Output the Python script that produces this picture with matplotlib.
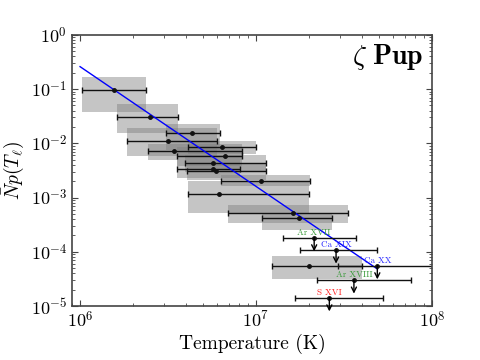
import matplotlib
matplotlib.use('Agg')
import matplotlib.pyplot as plt
import numpy as np
from matplotlib.ticker import FuncFormatter

# measured points: temperature, lower/upper temperature, value, box lower/upper
temp = [1.55e6, 2.50e6, 4.32e6, 3.18e6, 6.38e6, 3.42e6, 6.67e6, 5.68e6,
        5.68e6, 5.93e6, 1.07e7, 6.17e6, 1.63e7, 1.76e7, 2.00e7]
temp_lo = [1.02e6, 1.63e6, 3.07e6, 1.86e6, 4.12e6, 2.43e6, 3.54e6, 3.95e6,
           3.54e6, 4.04e6, 6.30e6, 4.12e6, 6.90e6, 1.08e7, 1.24e7]
temp_hi = [2.36e6, 3.62e6, 6.24e6, 5.98e6, 1.00e7, 8.30e6, 8.30e6, 1.14e7,
           8.11e6, 1.14e7, 2.03e7, 2.00e7, 3.34e7, 2.69e7, 3.99e7]
npt = [9.7e-2, 3.11e-2, 1.54e-2, 1.11e-2, 8.47e-3, 7.24e-3, 5.93e-3, 4.30e-3,
       3.37e-3, 3.10e-3, 2.05e-3, 1.15e-3, 5.13e-4, 4.15e-4, 5.54e-5]
npt_lo = [3.85e-2, 1.54e-2, 7.55e-3, 5.86e-3, 6.37e-3, 4.94e-3, 3.83e-3, 2.97e-3,
          2.30e-3, 2.11e-3, 1.64e-3, 5.20e-4, 3.36e-4, 2.52e-4, 3.11e-5]
npt_hi = [1.70e-1, 5.33e-2, 2.28e-2, 1.95e-2, 1.11e-2, 9.75e-3, 8.59e-3, 6.11e-3,
          4.94e-3, 4.35e-3, 2.61e-3, 2.02e-3, 7.30e-4, 5.20e-4, 8.37e-5]

# upper limits
ul_names = ['Ar XVII', 'Ca XIX', 'Ca XX', 'Ar XVIII', 'S XVI']
ul_colors = ['#3a9a3a', '#3030ff', '#3030ff', '#3a9a3a', '#ff2020']
ul_temp = [2.14e7, 2.85e7, 4.89e7, 3.60e7, 2.61e7]
ul_temp_lo = [1.43e7, 1.78e7, 2.94e7, 2.23e7, 1.67e7]
ul_temp_hi = [3.68e7, 4.89e7, 1.2e8, 7.57e7, 5.28e7]
ul_val = [1.82e-4, 1.08e-4, 5.54e-5, 3.02e-5, 1.42e-5]

# power law fit
fit_t = [1.0e6, 4.9e7]
fit_n = [2.6e-1, 4.8e-5]

plt.rcParams['mathtext.fontset'] = 'cm'
plt.rcParams['axes.formatter.use_mathtext'] = True

fig = plt.figure(figsize=(4.8, 3.6), dpi=100)
ax = fig.add_axes([0.15, 0.15, 0.75, 0.753])
ax.set_xscale('log')
ax.set_yscale('log')

# gray boxes
for i in range(len(temp)):
    ax.fill_between([temp_lo[i], temp_hi[i]], npt_lo[i], npt_hi[i],
                    color='gray', alpha=0.45, lw=0)

t = np.array(temp)
ax.errorbar(temp, npt, xerr=[t - np.array(temp_lo), np.array(temp_hi) - t],
            fmt='o', color='#111111', ms=2.5, capsize=2.5, elinewidth=1,
            capthick=1)

ax.plot(fit_t, fit_n, color='blue', lw=1)

ut = np.array(ul_temp)
ax.errorbar(ul_temp, ul_val, xerr=[ut - np.array(ul_temp_lo), np.array(ul_temp_hi) - ut],
            fmt='o', color='#111111', ms=2.5, capsize=2.5, elinewidth=1,
            capthick=1)
for i in range(len(ul_names)):
    ax.annotate('', xy=(ul_temp[i], ul_val[i] * 0.56), xytext=(ul_temp[i], ul_val[i]),
                arrowprops=dict(arrowstyle='->', color='black', lw=1,
                                shrinkA=0, shrinkB=0, mutation_scale=9),
                annotation_clip=False)
    ax.text(ul_temp[i], ul_val[i] * 1.04, ul_names[i], color=ul_colors[i],
            fontsize=6.5, family='cmr10', ha='center', va='bottom')

ax.text(0.975, 0.975, r'$\zeta\ \mathbf{Pup}$', transform=ax.transAxes,
        fontsize=20, ha='right', va='top')

ax.set_xlim(9.0e5, 1e8)
ax.set_ylim(1e-5, 1)
fmt = FuncFormatter(lambda v, p: r'$10^{%d}$' % round(np.log10(v)))
ax.xaxis.set_major_formatter(fmt)
ax.yaxis.set_major_formatter(fmt)
ax.tick_params(which='both', direction='in', top=True, right=True,
               color='#444444', labelsize=13)
ax.tick_params(which='major', length=4)
ax.tick_params(which='minor', length=2)
for s in ax.spines.values():
    s.set_color('#444444')
    s.set_linewidth(1.2)

ax.set_xlabel('Temperature (K)', family='cmr10', fontsize=14, labelpad=2)
ax.set_ylabel(r'$\bar{N}p(T_\ell)$', fontsize=14, labelpad=3)

plt.savefig('out.png', dpi=100)
